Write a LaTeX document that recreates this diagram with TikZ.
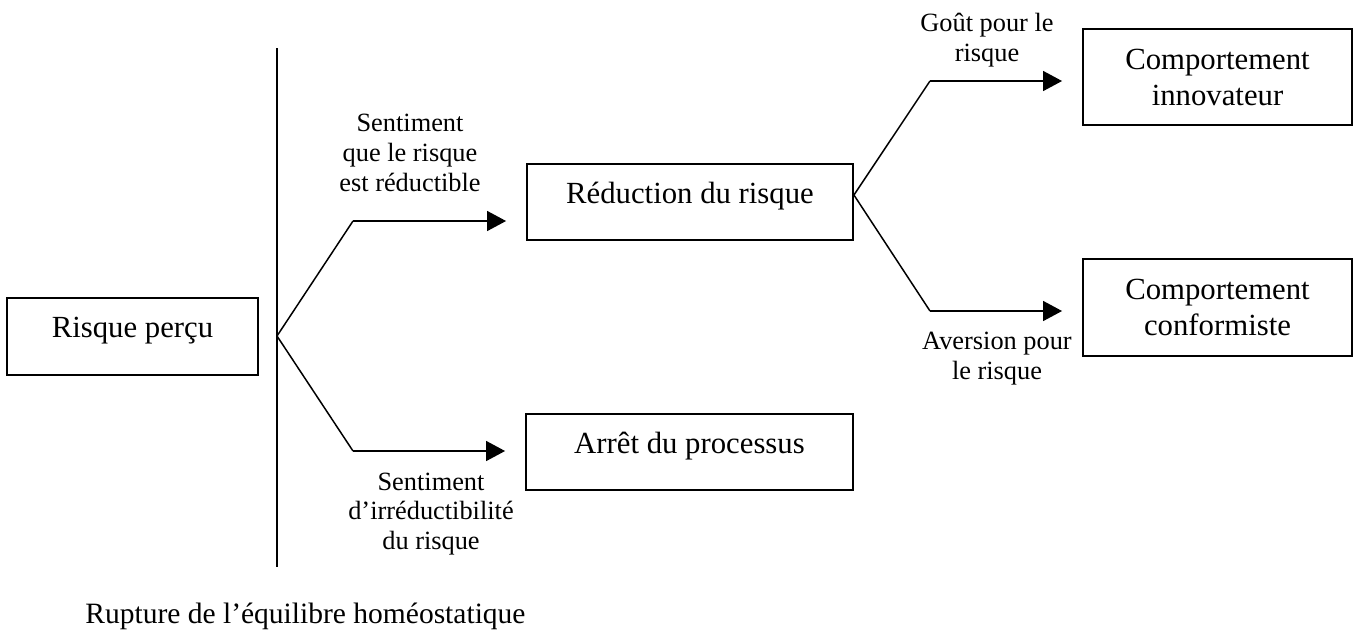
\documentclass[tikz,border=0pt]{standalone}
\usepackage{fontspec}
\setmainfont{Liberation Serif}
\usetikzlibrary{positioning,arrows.meta}

\begin{document}
\begin{tikzpicture}[
        x=0.02cm, y=-0.02cm,
        boite/.style={draw, line width=1.1pt, inner sep=0pt, align=center, font=\fontsize{17.5}{20.5}\selectfont},
        simple/.style={boite, text depth=0.35cm},
        etiquette/.style={align=center, inner sep=0pt, font=\fontsize{15}{17}\selectfont},
        fleche/.style={draw, line width=0.85pt, -{Triangle[length=0.38cm, width=0.4cm]}, shorten >=0.4cm},
        trait/.style={draw, line width=0.85pt}
    ]
        \useasboundingbox (0,0) rectangle (1363,633);

        % Boxes
        \node[simple, minimum width=5.02cm, minimum height=1.54cm] (risque) at (132.5,336.5) {Risque perçu};
        \node[simple, minimum width=6.52cm, minimum height=1.52cm] (reduc) at (690,202) {Réduction du risque};
        \node[simple, minimum width=6.54cm, minimum height=1.52cm] (arret) at (689.5,452) {Arrêt du processus};
        \node[boite, minimum width=5.38cm, minimum height=1.92cm] (innov) at (1217.5,77) {Comportement\\innovateur};
        \node[boite, minimum width=5.38cm, minimum height=1.94cm] (conf) at (1217.5,307.5) {Comportement\\conformiste};

        % Rupture line
        \coordinate (haut) at (277,48);
        \coordinate (bas) at (277,567);
        \draw[line width=1.1pt] (haut) -- (bas);
        \node[anchor=base west, inner sep=0pt, font=\fontsize{16.8}{20}\selectfont] (rupture) at (85,623) {Rupture de l’équilibre homéostatique};

        % Branch points and corners
        \coordinate (bif1) at (277,336);
        \coordinate (c1) at (353,221);
        \coordinate (c2) at (353,451);
        \coordinate (bif2) at ([yshift=0.14cm]reduc.east);
        \coordinate (c3) at (930,81);
        \coordinate (c4) at (930,311);

        % Left branches
        \draw[trait] (bif1) -- (c1);
        \draw[fleche] (c1) -- (c1 -| reduc.west);
        \draw[trait] (bif1) -- (c2);
        \draw[fleche] (c2) -- (c2 -| arret.west);

        % Right branches
        \draw[trait] (bif2) -- (c3);
        \draw[fleche] (c3) -- (c3 -| innov.west);
        \draw[trait] (bif2) -- (c4);
        \draw[fleche] (c4) -- (c4 -| conf.west);

        % Labels
        \node[etiquette] (lreduc) at (410,153) {Sentiment\\que le risque\\est réductible};
        \node[etiquette] (larret) at (431,514) {Sentiment\\d’irréductibilité\\du risque};
        \node[etiquette] (lgout) at (987,40) {Goût pour le\\risque};
        \node[etiquette] (laversion) at (997,359) {Aversion pour\\le risque};

    \end{tikzpicture}
\end{document}
